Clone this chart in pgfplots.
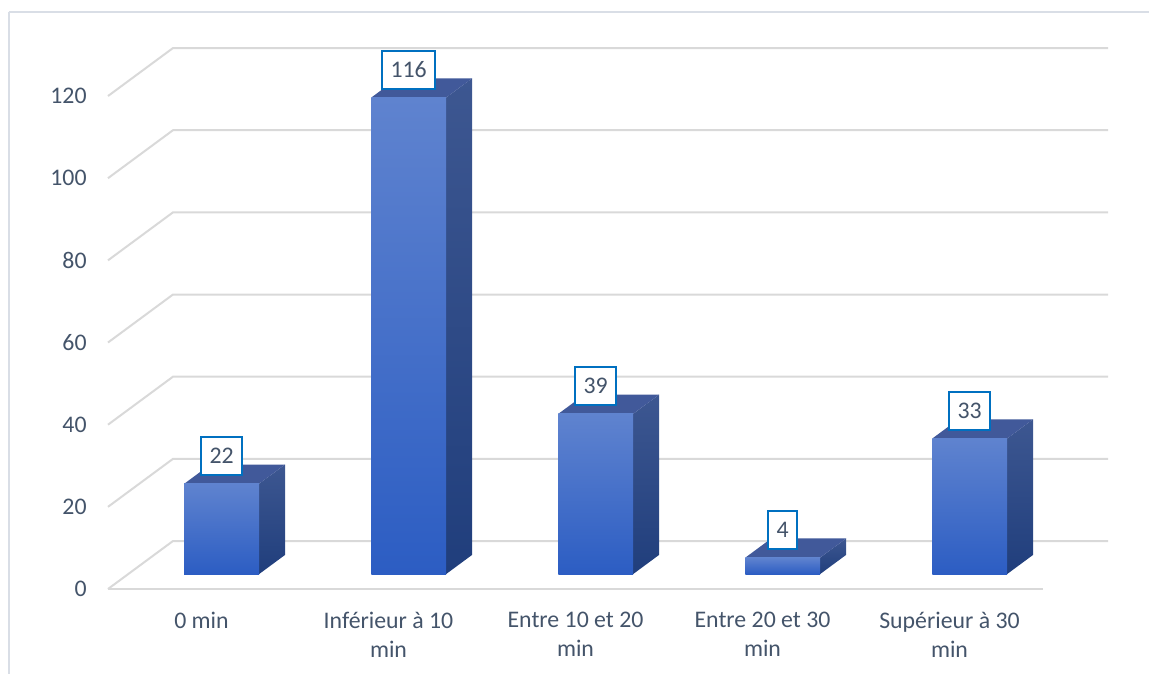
\documentclass[border=0pt]{standalone}
\usepackage{pgfplots}
\pgfplotsset{compat=1.18}
\usepackage{fontspec}
\setmainfont{Carlito}
\definecolor{txt}{HTML}{44546A}
\definecolor{gridc}{HTML}{D9D9D9}
\definecolor{frontT}{HTML}{5F83CF}
\definecolor{frontB}{HTML}{2C5DC3}
\definecolor{sideT}{HTML}{3D5791}
\definecolor{sideB}{HTML}{203E7C}
\definecolor{topc}{HTML}{41599A}
\definecolor{lblbox}{HTML}{0070C0}
\definecolor{framec}{HTML}{D9DEE6}
% #1 = left x, #2 = right x, #3 = value
\newcommand\cube[3]{%
  \addplot3[draw=none, top color=sideT, bottom color=sideB, mark=none]
    coordinates {(#2,0.31,0) (#2,0.71,0) (#2,0.71,#3) (#2,0.31,#3)};
  \addplot3[draw=none, fill=topc, mark=none]
    coordinates {(#1,0.31,#3) (#2,0.31,#3) (#2,0.71,#3) (#1,0.71,#3)};
  \addplot3[draw=none, top color=frontT, bottom color=frontB, mark=none]
    coordinates {(#1,0.31,0) (#2,0.31,0) (#2,0.31,#3) (#1,0.31,#3)};
}
\begin{document}
\begin{tikzpicture}[font=\fontsize{11.9bp}{14.5bp}\selectfont, text=txt]
\begin{axis}[
  x={(93.5bp,0bp)}, y={(32.5bp,24bp)}, z={(0bp,2.054bp)},
  xmin=0, xmax=5, ymin=0, ymax=1, zmin=0, zmax=120,
  hide axis, clip=false,
  /pgf/number format/assume math mode=true,
]
% gridlines
\pgfplotsinvokeforeach{0,20,40,60,80,100,120}{
  \draw[gridc, line width=1bp] (axis cs:0,0,#1) -- (axis cs:0,1,#1) -- (axis cs:5,1,#1);
  \node[anchor=east, inner sep=0pt, xshift=-10.5bp, text=txt] at (axis cs:0,0,#1) {#1};
}
\draw[gridc, line width=1bp] (axis cs:0,0,0) -- (axis cs:5,0,0);
\coordinate (O) at (axis cs:0,0,0);
% bars
\cube{0.3}{0.7}{22}
\cube{1.3}{1.7}{116}
\cube{2.3}{2.7}{39}
\cube{3.3}{3.7}{4}
\cube{4.3}{4.7}{33}
% data labels
\addplot3[draw=none, mark=none, point meta=z,
  nodes near coords={\pgfmathprintnumber{\pgfplotspointmeta}},
  nodes near coords style={anchor=south, yshift=4bp, fill=white, draw=lblbox,
    line width=1bp, inner xsep=4.3bp, inner ysep=0pt, minimum height=19bp, text=txt}]
  coordinates {(0.5,0.31,22) (1.5,0.31,116) (2.5,0.31,39) (3.5,0.31,4) (4.5,0.31,33)};
% category labels
\node[anchor=north, align=center, inner sep=0pt, yshift=-11.5bp] at (axis cs:0.5,0,0) {0 min};
\node[anchor=north, align=center, inner sep=0pt, yshift=-11.5bp] at (axis cs:1.5,0,0) {Inférieur à 10\\min};
\node[anchor=north, align=center, inner sep=0pt, yshift=-11.5bp] at (axis cs:2.5,0,0) {Entre 10 et 20\\min};
\node[anchor=north, align=center, inner sep=0pt, yshift=-11.5bp] at (axis cs:3.5,0,0) {Entre 20 et 30\\min};
\node[anchor=north, align=center, inner sep=0pt, yshift=-11.5bp] at (axis cs:4.5,0,0) {Supérieur à 30\\min};
\end{axis}
\draw[framec, line width=0.6bp] (O) ++(-49.5bp,288.5bp) -- ++(570bp,0bp);
\draw[framec, line width=0.6bp] (O) ++(-49.5bp,288.5bp) -- ++(0bp,-288.5bp) -- ++(0bp,-42.5bp);
\pgfresetboundingbox
\path[use as bounding box] (O) ++(-54bp,-42.5bp) rectangle ++(574.5bp,337bp);
\end{tikzpicture}
\end{document}
